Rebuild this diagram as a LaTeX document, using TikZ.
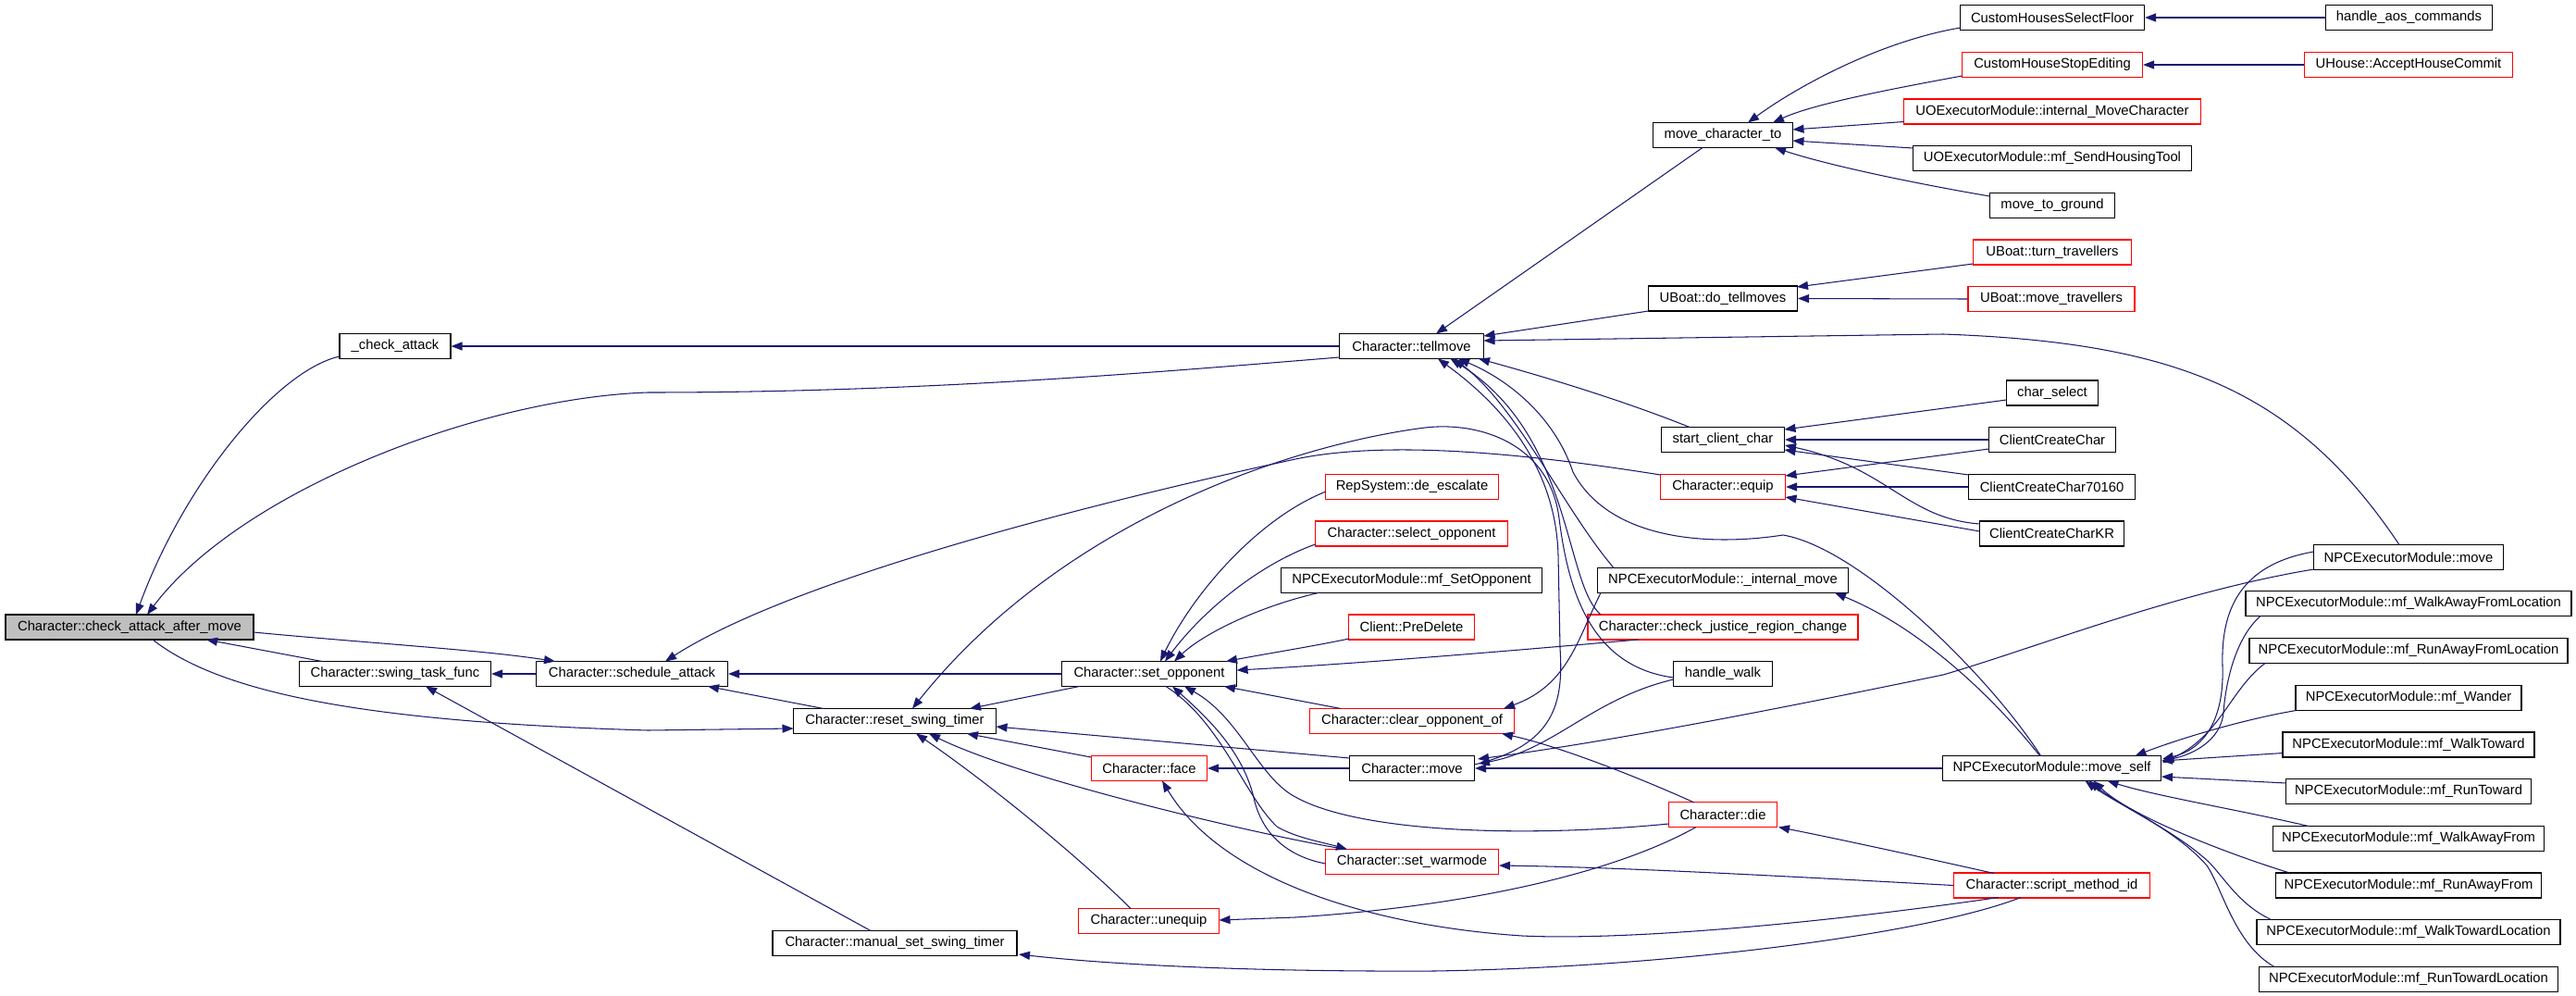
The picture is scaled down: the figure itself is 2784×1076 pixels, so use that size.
\documentclass[tikz,border=0pt]{standalone}
\usepackage{fontspec}
\setmainfont{Liberation Sans}
\usetikzlibrary{calc,arrows.meta}
\definecolor{edgec}{HTML}{191970}
\definecolor{nodegrey}{HTML}{BFBFBF}
\tikzset{
  fn/.style={draw=black, line width=1.1pt, fill=white, minimum height=27pt, inner sep=0pt, font=\fontsize{14.8}{17}\selectfont},
  fnred/.style={fn, draw=red},
  calls/.style={draw=edgec, line width=1.05pt, -{Triangle[length=12pt,width=9pt]}},
}
\begin{document}
\begin{tikzpicture}[x=1pt,y=-1pt]
\fill[white] (0,0) rectangle (2784,1076);
\useasboundingbox (0,0) rectangle (2784,1076);
% column 0
\node[fn, fill=nodegrey, minimum width=268pt] (cam) at (140,677.5) {Character::check\_attack\_after\_move};
% column 1
\node[fn, minimum width=120pt] (chk) at (427,374) {\_check\_attack};
\node[fn, minimum width=207pt] (swing) at (427,728) {Character::swing\_task\_func};
% column 2
\node[fn, minimum width=207pt] (sched) at (683,728) {Character::schedule\_attack};
% column 3
\node[fn, minimum width=219pt] (reset) at (967,779) {Character::reset\_swing\_timer};
\node[fn, minimum width=264pt] (manual) at (967,1019) {Character::manual\_set\_swing\_timer};
% column 4
\node[fn, minimum width=189pt] (setopp) at (1242,728) {Character::set\_opponent};
\node[fnred, minimum width=125pt] (face) at (1242,830) {Character::face};
\node[fnred, minimum width=152pt] (unequip) at (1241.5,995) {Character::unequip};
% column 5
\node[fn, minimum width=156pt] (tellmove) at (1525.5,374) {Character::tellmove};
\node[fnred, minimum width=187pt] (desc) at (1526,526) {RepSystem::de\_escalate};
\node[fnred, minimum width=208pt] (selopp) at (1525.5,576.5) {Character::select\_opponent};
\node[fn, minimum width=282pt] (mfsetopp) at (1525.5,627) {NPCExecutorModule::mf\_SetOpponent};
\node[fnred, minimum width=136pt] (predel) at (1525.5,677.5) {Client::PreDelete};
\node[fnred, minimum width=221pt] (clropp) at (1526,779) {Character::clear\_opponent\_of};
\node[fn, minimum width=135pt] (cmove) at (1526,830) {Character::move};
\node[fnred, minimum width=187pt] (warmode) at (1526,931) {Character::set\_warmode};
% column 6
\node[fn, minimum width=151pt] (mct) at (1862,146) {move\_character\_to};
\node[fn, minimum width=161pt] (dotell) at (1862,322.5) {UBoat::do\_tellmoves};
\node[fn, minimum width=133pt] (scc) at (1862,475) {start\_client\_char};
\node[fnred, minimum width=135pt] (equip) at (1862,526) {Character::equip};
\node[fn, minimum width=271pt] (intmove) at (1862,627) {NPCExecutorModule::\_internal\_move};
\node[fnred, minimum width=292pt] (cjrc) at (1862,677.5) {Character::check\_justice\_region\_change};
\node[fn, minimum width=107pt] (hwalk) at (1862,728) {handle\_walk};
\node[fnred, minimum width=117pt] (die) at (1862,880) {Character::die};
% column 7
\node[fn, minimum width=199pt] (chsf) at (2218,19) {CustomHousesSelectFloor};
\node[fnred, minimum width=195pt] (chse) at (2218,70) {CustomHouseStopEditing};
\node[fnred, minimum width=321pt] (imc) at (2218,120.5) {UOExecutorModule::internal\_MoveCharacter};
\node[fn, minimum width=301pt] (sht) at (2218,171) {UOExecutorModule::mf\_SendHousingTool};
\node[fn, minimum width=135pt] (mtg) at (2218,222) {move\_to\_ground};
\node[fnred, minimum width=171pt] (turn) at (2218,272.5) {UBoat::turn\_travellers};
\node[fnred, minimum width=180pt] (movetr) at (2217,323) {UBoat::move\_travellers};
\node[fn, minimum width=99pt] (chsel) at (2218,424.5) {char\_select};
\node[fn, minimum width=137pt] (ccc) at (2218,475) {ClientCreateChar};
\node[fn, minimum width=180pt] (ccc7) at (2217.5,526) {ClientCreateChar70160};
\node[fn, minimum width=156pt] (ccckr) at (2217.5,576.5) {ClientCreateCharKR};
\node[fn, minimum width=236pt] (mself) at (2217.5,830) {NPCExecutorModule::move\_self};
\node[fnred, minimum width=212pt] (smid) at (2217.5,956.5) {Character::script\_method\_id};
% column 8
\node[fn, minimum width=180pt] (aos) at (2603.5,19) {handle\_aos\_commands};
\node[fnred, minimum width=225pt] (ahc) at (2603,70) {UHouse::AcceptHouseCommit};
\node[fn, minimum width=205pt] (npcmove) at (2603,602) {NPCExecutorModule::move};
\node[fn, minimum width=352pt] (wafl) at (2603,652) {NPCExecutorModule::mf\_WalkAwayFromLocation};
\node[fn, minimum width=344pt] (rafl) at (2603,703) {NPCExecutorModule::mf\_RunAwayFromLocation};
\node[fn, minimum width=244pt] (wander) at (2603,754) {NPCExecutorModule::mf\_Wander};
\node[fn, minimum width=272pt] (wt) at (2603,804.5) {NPCExecutorModule::mf\_WalkToward};
\node[fn, minimum width=265pt] (rt) at (2603,855) {NPCExecutorModule::mf\_RunToward};
\node[fn, minimum width=293pt] (waf) at (2603,906) {NPCExecutorModule::mf\_WalkAwayFrom};
\node[fn, minimum width=287pt] (raf) at (2603,956.5) {NPCExecutorModule::mf\_RunAwayFrom};
\node[fn, minimum width=328pt] (wtl) at (2603,1007) {NPCExecutorModule::mf\_WalkTowardLocation};
\node[fn, minimum width=323pt] (rtl) at (2603,1058) {NPCExecutorModule::mf\_RunTowardLocation};

% ---- edges into check_attack_after_move
\draw[calls] ($(chk)+(-60,11)$) .. controls (300,400) and (200,520) .. ($(cam)+(7,-13.5)$);
\draw[calls] ($(tellmove)+(-78,12)$) .. controls (1250,402) and (1000,424) .. (700,424) .. controls (520,430) and (260,530) .. ($(cam)+(19,-13.5)$);
\draw[calls] ($(swing)+(-79,-13.5)$) -- ($(cam)+(83,13.5)$);
\draw[calls] (tellmove.west) -- (chk.east);
\draw[calls] ($(cam)+(134,5.5)$) .. controls (400,695) and (520,702) .. ($(sched)+(-83,-13.5)$);
\draw[calls] ($(cam)+(25,13.5)$) .. controls (240,750) and (400,780) .. (700,789) -- ($(reset)+(-109.5,8)$);
\draw[calls] (sched.west) -- (swing.east);
\draw[calls] ($(manual)+(-26,-13.5)$) -- ($(swing)+(33,13.5)$);
\draw[calls] (setopp.west) -- (sched.east);
\draw[calls] ($(reset)+(-77,-13.5)$) -- ($(sched)+(82,13.5)$);
\draw[calls] ($(equip)+(-67.5,-13)$) .. controls (1650,490) and (1500,475) .. (1400,496) .. controls (1150,550) and (850,630) .. ($(sched)+(36,-13.5)$);
\draw[calls] ($(hwalk)+(-53.5,4)$) .. controls (1720,720) and (1695,640) .. (1685,560) .. controls (1675,480) and (1600,455) .. (1540,462) .. controls (1400,480) and (1150,560) .. ($(reset)+(19,-13.5)$);

% ---- tellmove
\draw[calls] ($(mct)+(-22,13.5)$) -- ($(tellmove)+(26.5,-13.5)$);
\draw[calls] ($(dotell)+(-80.5,13.5)$) -- ($(tellmove)+(78,-11)$);
\draw[calls] ($(npcmove)+(-10,-13.5)$) .. controls (2480,420) and (2350,370) .. (2100,361) -- ($(tellmove)+(78,-6)$);
\draw[calls] ($(scc)+(-36,-13.5)$) .. controls (1760,435) and (1680,410) .. ($(tellmove)+(72.5,13.5)$);
\draw[calls] ($(cmove)+(67.5,-4)$) .. controls (1680,805) and (1690,760) .. (1686,700) -- (1684,600) .. controls (1682,520) and (1640,450) .. ($(tellmove)+(28.5,13.5)$);
\draw[calls] ($(intmove)+(-118,-13.5)$) .. controls (1690,550) and (1640,440) .. ($(tellmove)+(46,13.5)$);
\draw[calls] ($(cjrc)+(-132,-13.5)$) .. controls (1690,630) and (1700,470) .. ($(tellmove)+(42,13.5)$);
\draw[calls] ($(mself)+(-12,-13.5)$) .. controls (2150,730) and (2010,592) .. (1927,578) .. controls (1850,590) and (1740,585) .. (1700,510) .. controls (1680,450) and (1630,410) .. ($(tellmove)+(50.5,13.5)$);

% ---- move_character_to
\draw[calls] ($(chsf)+(-99.5,11)$) .. controls (2030,45) and (1940,95) .. ($(mct)+(27,-13.5)$);
\draw[calls] ($(chse)+(-97.5,12)$) .. controls (2050,95) and (1960,112) .. ($(mct)+(54,-13.5)$);
\draw[calls] ($(imc)+(-160.5,11)$) -- ($(mct)+(75.5,-6)$);
\draw[calls] ($(sht)+(-150.5,-11)$) -- ($(mct)+(75.5,6)$);
\draw[calls] ($(mtg)+(-67.5,-10)$) .. controls (2080,200) and (1980,180) .. ($(mct)+(56,13.5)$);
\draw[calls] (aos.west) -- (chsf.east);
\draw[calls] (ahc.west) -- (chse.east);
\draw[calls] ($(turn)+(-85.5,12.5)$) -- ($(dotell)+(80,-12.5)$);
\draw[calls] (movetr.west) -- (dotell.east);

% ---- start_client_char / equip
\draw[calls] ($(chsel)+(-49.5,7.5)$) -- ($(scc)+(66.5,-11)$);
\draw[calls] (ccc.west) -- (scc.east);
\draw[calls] ($(ccc7)+(-90,-13)$) -- ($(scc)+(66.5,11)$);
\draw[calls] ($(ccckr)+(-78,-10.5)$) .. controls (2060,560) and (2040,505) .. ($(scc)+(67,6)$);
\draw[calls] ($(ccc)+(-68.5,10)$) -- ($(equip)+(67.5,-12)$);
\draw[calls] (ccc7.west) -- (equip.east);
\draw[calls] ($(ccckr)+(-78,-2.5)$) -- ($(equip)+(67.5,11)$);

% ---- set_opponent
\draw[calls] ($(desc)+(-93,5)$) .. controls (1360,560) and (1290,640) .. ($(setopp)+(12,-13.5)$);
\draw[calls] ($(selopp)+(-104,11.5)$) .. controls (1360,610) and (1300,660) .. ($(setopp)+(17,-13.5)$);
\draw[calls] ($(mfsetopp)+(-98.5,13)$) .. controls (1360,655) and (1300,685) .. ($(setopp)+(27,-13.5)$);
\draw[calls] ($(predel)+(-67.5,12.5)$) .. controls (1420,698) and (1370,706) .. ($(setopp)+(83,-13.5)$);
\draw[calls] ($(cjrc)+(-91.5,13.5)$) .. controls (1600,706) and (1450,718) .. ($(setopp)+(94.6,-4)$);
\draw[calls] ($(clropp)+(-77,-13.5)$) -- ($(setopp)+(81,13.5)$);
\draw[calls] ($(die)+(-58.5,10)$) .. controls (1650,905) and (1470,900) .. (1400,861) .. controls (1360,840) and (1340,775) .. ($(setopp)+(38,13.5)$);
\draw[calls] ($(warmode)+(-93.5,2)$) .. controls (1390,925) and (1365,900) .. (1356,866) .. controls (1345,815) and (1310,780) .. ($(setopp)+(25,13.5)$);
\draw[calls] ($(setopp)+(18,13.5)$) .. controls (1320,780) and (1345,860) .. (1380,893) .. controls (1400,905) and (1430,910) .. ($(warmode)+(-70,-13.5)$);

% ---- reset_swing_timer
\draw[calls] ($(setopp)+(-75.5,13.5)$) -- ($(reset)+(81,-13.5)$);
\draw[calls] ($(cmove)+(-67.5,-11)$) -- ($(reset)+(109.5,6)$);
\draw[calls] ($(face)+(-63,-12)$) -- ($(reset)+(78,13.5)$);
\draw[calls] ($(unequip)+(-19.5,-13.5)$) .. controls (1160,920) and (1060,840) .. ($(reset)+(23,13.5)$);
\draw[calls] ($(warmode)+(-72,-13.5)$) .. controls (1350,900) and (1100,840) .. ($(reset)+(37,13.5)$);

% ---- lower area
\draw[calls] ($(smid)+(-57.5,13)$) .. controls (1950,1000) and (1750,1016) .. (1645,1011) .. controls (1480,1000) and (1320,950) .. ($(face)+(14,13.5)$);
\draw[calls] ($(die)+(-29,13.5)$) .. controls (1750,940) and (1600,978) .. (1400,991) -- ($(unequip)+(76,-1)$);
\draw[calls] ($(smid)+(-33.5,13)$) .. controls (2080,1010) and (1800,1045) .. (1550,1049) .. controls (1350,1050) and (1200,1042) .. ($(manual)+(134,12)$);
\draw[calls] (smid.west) .. controls (1900,945) and (1750,937) .. ($(warmode)+(94,4)$);
\draw[calls] ($(smid)+(-62.5,-13)$) .. controls (2050,920) and (1980,905) .. ($(die)+(60,13.5)$);
\draw[calls] (cmove.west) -- (face.east);
\draw[calls] ($(die)+(-31,-13)$) .. controls (1760,835) and (1680,805) .. ($(clropp)+(97,13.5)$);
\draw[calls] ($(intmove)+(-132,13.5)$) .. controls (1705,690) and (1695,740) .. ($(clropp)+(99,-13.5)$);
\draw[calls] ($(npcmove)+(-102.5,13)$) .. controls (2350,640) and (2200,700) .. (2100,729) .. controls (1950,760) and (1750,800) .. ($(cmove)+(71,-10)$);
\draw[calls] ($(hwalk)+(-53.5,6)$) .. controls (1720,755) and (1680,810) .. ($(cmove)+(72,-5)$);
\draw[calls] (mself.west) -- (cmove.east);
\draw[calls] ($(mself)+(-13,-13.5)$) .. controls (2160,760) and (2080,680) .. ($(intmove)+(121,13.5)$);

% ---- move_self
\draw[calls] ($(npcmove)+(-102.5,-6)$) .. controls (2420,610) and (2400,660) .. (2402,720) .. controls (2404,780) and (2380,810) .. ($(mself)+(119.5,-10)$);
\draw[calls] ($(wafl)+(-160,13.5)$) .. controls (2415,690) and (2405,740) .. (2403,770) .. controls (2400,800) and (2370,815) .. ($(mself)+(119.5,-8)$);
\draw[calls] ($(rafl)+(-155,13.5)$) .. controls (2410,745) and (2400,795) .. ($(mself)+(119.5,-6)$);
\draw[calls] ($(wander)+(-121.5,13.5)$) .. controls (2420,778) and (2350,800) .. ($(mself)+(90,-13.5)$);
\draw[calls] ($(wt)+(-135.5,9)$) -- ($(mself)+(118.5,-8)$);
\draw[calls] ($(rt)+(-132.5,-9)$) -- ($(mself)+(118.5,9)$);
\draw[calls] ($(waf)+(-108,-13.5)$) .. controls (2420,875) and (2330,860) .. ($(mself)+(60,13.5)$);
\draw[calls] ($(raf)+(-128.5,-13.5)$) .. controls (2400,920) and (2300,880) .. ($(mself)+(45,13.5)$);
\draw[calls] ($(wtl)+(-148.5,-13.5)$) .. controls (2415,975) and (2400,940) .. (2380,925) .. controls (2345,895) and (2290,870) .. ($(mself)+(40,13.5)$);
\draw[calls] ($(rtl)+(-145,-13.5)$) .. controls (2415,1020) and (2402,960) .. (2385,935) .. controls (2350,895) and (2290,870) .. ($(mself)+(36,13.5)$);
\end{tikzpicture}
\end{document}
